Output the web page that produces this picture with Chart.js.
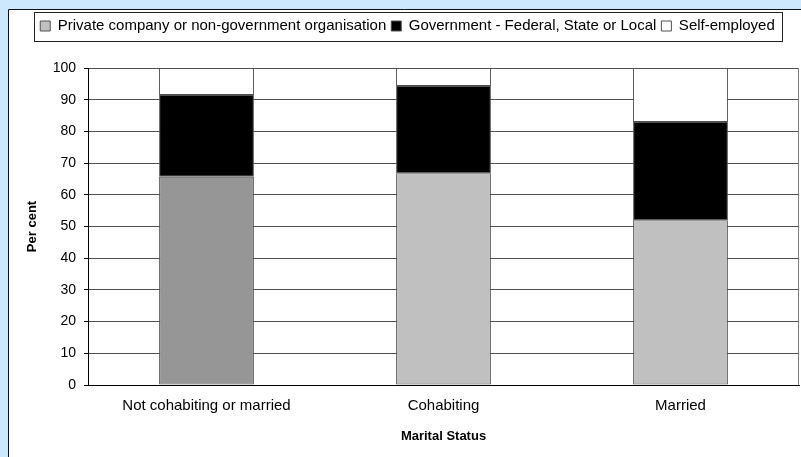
<!DOCTYPE html>
<html>
<head>
<meta charset="utf-8">
<script src="https://cdn.jsdelivr.net/npm/chart.js@4.4.1/dist/chart.umd.min.js"></script>
<style>
  html, body { margin: 0; padding: 0; background: #cde8fd; }
  #wrap { position: absolute; left: 0; top: 0; width: 801px; height: 457px; }
</style>
</head>
<body>
<div id="wrap"><canvas id="c" width="801" height="457"></canvas></div>
<script>
const categories = ['Not cohabiting or married', 'Cohabiting', 'Married'];
const seriesNames = ['Private company or non-government organisation', 'Government - Federal, State or Local', 'Self-employed'];
const privateVals = [65.7, 66.8, 52.0];
const governmentVals = [25.8, 27.5, 31.0];
const selfEmployedVals = [8.5, 5.7, 17.0];
const yTicks = [0, 10, 20, 30, 40, 50, 60, 70, 80, 90, 100];

const FONT = "'Liberation Sans', Arial, sans-serif";

const panelPlugin = {
  id: 'panel',
  beforeDraw(chart) {
    const ctx = chart.ctx;
    ctx.save();
    ctx.fillStyle = '#cde8fd';
    ctx.fillRect(0, 0, chart.width, chart.height);
    ctx.fillStyle = '#ffffff';
    ctx.fillRect(8, 9, chart.width - 8, chart.height - 9);
    ctx.strokeStyle = '#111111';
    ctx.lineWidth = 1;
    ctx.beginPath();
    ctx.moveTo(8.5, chart.height);
    ctx.lineTo(8.5, 9.5);
    ctx.lineTo(chart.width, 9.5);
    ctx.stroke();
    ctx.restore();
  },
  afterDraw(chart) {
    const ctx = chart.ctx;
    const a = chart.chartArea;
    ctx.save();
    ctx.strokeStyle = '#808080';
    ctx.lineWidth = 1;
    ctx.beginPath();
    ctx.moveTo(Math.round(a.right) - 0.5, a.top);
    ctx.lineTo(Math.round(a.right) - 0.5, a.bottom);
    ctx.stroke();
    const lg = chart.legend;
    if (lg && lg.legendHitBoxes && lg.legendHitBoxes.length) {
      const hb = lg.legendHitBoxes;
      const first = hb[0], last = hb[hb.length - 1];
      const cy = first.top + first.height / 2;
      const left = Math.round(first.left - 6) + 0.5;
      const right = Math.round(last.left + last.width + 7) + 0.5;
      const top = Math.round(cy - 14.5) + 0.5;
      const bottom = Math.round(cy + 14.5) + 0.5;
      ctx.strokeStyle = '#222222';
      ctx.strokeRect(left, top, right - left, bottom - top);
    }
    ctx.restore();
  }
};

const barCommon = { borderColor: '#505050', borderWidth: 1, borderSkipped: false, categoryPercentage: 1.0, barPercentage: 0.4 };

const ctx = document.getElementById('c').getContext('2d');
new Chart(ctx, {
  type: 'bar',
  data: {
    labels: categories,
    datasets: [
      Object.assign({ label: seriesNames[0], data: privateVals, backgroundColor: ['#969696', '#c0c0c0', '#c0c0c0'] }, barCommon),
      Object.assign({ label: seriesNames[1], data: governmentVals, backgroundColor: '#000000' }, barCommon),
      Object.assign({ label: seriesNames[2], data: selfEmployedVals, backgroundColor: '#ffffff' }, barCommon)
    ]
  },
  options: {
    responsive: false,
    animation: false,
    devicePixelRatio: 1,
    layout: { padding: { left: 16, right: 2, top: 13.5, bottom: 0 } },
    plugins: {
      tooltip: { enabled: false },
      legend: {
        display: true,
        position: 'top',
        labels: {
          boxWidth: 10,
          boxHeight: 10,
          padding: 5,
          color: '#000000',
          font: { family: FONT, size: 15 },
          generateLabels(chart) {
            const items = Chart.defaults.plugins.legend.labels.generateLabels(chart);
            const fills = ['#c0c0c0', '#000000', '#ffffff'];
            items.forEach((it, i) => { it.fillStyle = fills[i]; it.strokeStyle = '#505050'; it.lineWidth = 1; });
            return items;
          }
        }
      }
    },
    scales: {
      x: {
        stacked: true,
        grid: { display: false, drawTicks: false },
        border: { display: true, color: '#000000', width: 1 },
        ticks: { color: '#000000', font: { family: FONT, size: 15 }, padding: 12, maxRotation: 0, autoSkip: false },
        title: {
          display: true,
          text: 'Marital Status',
          color: '#000000',
          font: { family: FONT, size: 13, weight: 'bold' },
          padding: { top: 0, bottom: 13 }
        },
        afterFit(scale) { scale.height = 72; }
      },
      spacer: {
        type: 'category',
        position: 'top',
        display: true,
        labels: [''],
        grid: { display: false, drawTicks: false },
        border: { display: false },
        ticks: { display: false },
        afterFit(scale) { scale.height = 24.5; }
      },
      y: {
        stacked: true,
        min: 0,
        max: 100,
        afterBuildTicks(scale) { scale.ticks = yTicks.map(v => ({ value: v })); },
        grid: { color: '#505050', lineWidth: 1, drawTicks: true, tickLength: 4, tickColor: '#000000' },
        border: { display: true, color: '#000000', width: 1 },
        ticks: { color: '#000000', font: { family: FONT, size: 14 }, padding: 8 },
        title: {
          display: true,
          text: 'Per cent',
          color: '#000000',
          font: { family: FONT, size: 13, weight: 'bold' },
          padding: { top: 9, bottom: 0 }
        },
        afterFit(scale) { scale.width = 72; }
      }
    }
  },
  plugins: [panelPlugin]
});
</script>
</body>
</html>
